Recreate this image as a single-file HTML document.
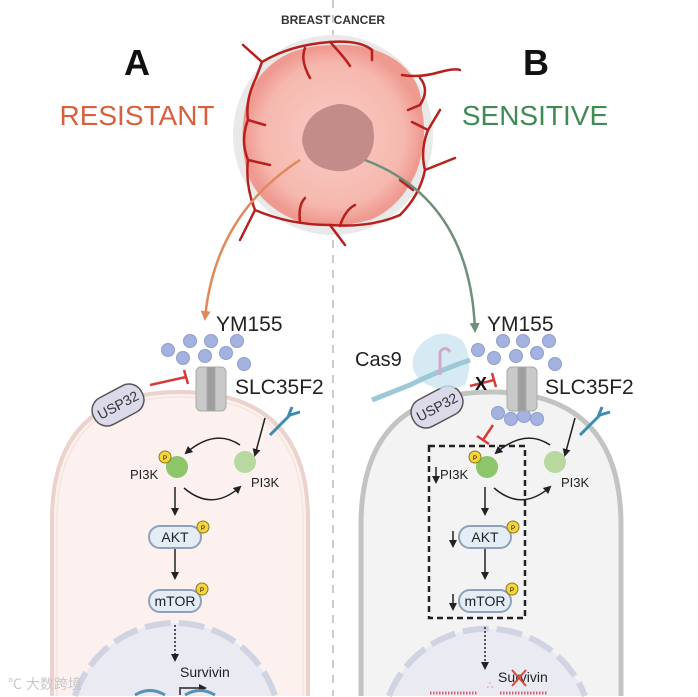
<!DOCTYPE html>
<html><head><meta charset="utf-8"><style>
html,body{margin:0;padding:0;background:#fff;width:698px;height:697px;overflow:hidden;}
svg{display:block;font-family:"Liberation Sans","Noto Sans CJK SC",sans-serif;}
</style></head><body>
<svg width="698" height="697" viewBox="0 0 698 697" xmlns="http://www.w3.org/2000/svg">
<defs>
<marker id="ah" markerWidth="8" markerHeight="8" refX="6" refY="4" orient="auto" markerUnits="userSpaceOnUse"><path d="M0,0 L8,4 L0,8 z" fill="#222"/></marker>
<marker id="ao" markerWidth="10" markerHeight="10" refX="7" refY="5" orient="auto" markerUnits="userSpaceOnUse"><path d="M0,0 L10,5 L0,10 z" fill="#e0895a"/></marker>
<marker id="ag" markerWidth="10" markerHeight="10" refX="7" refY="5" orient="auto" markerUnits="userSpaceOnUse"><path d="M0,0 L10,5 L0,10 z" fill="#6f8f7a"/></marker>
<radialGradient id="tum" cx="50%" cy="50%" r="50%"><stop offset="0" stop-color="#f7cdc6"/><stop offset="0.8" stop-color="#f6b8ae"/><stop offset="1" stop-color="#ef9a91"/></radialGradient>
</defs>
<line x1="333" y1="0" x2="333" y2="696" stroke="#bbb" stroke-width="1.5" stroke-dasharray="8,7"/>

<path d="M52,696 L52,520 Q52,392 180,392 Q308,392 308,520 L308,696" fill="#fcf1ef" stroke="#ecd2cd" stroke-width="4"/>
<path d="M57,696 L57,520 Q57,397 180,397 Q303,397 303,520 L303,696" fill="none" stroke="#f5e4e0" stroke-width="1.5"/>
<path d="M361,696 L361,525 Q361,392 491,392 Q621,392 621,525 L621,696" fill="#f3f3f3" stroke="#c2c4c2" stroke-width="5"/>

<path d="M75,696 A105,105 0 0 1 275,696 Z" fill="#e9eaf2"/>
<path d="M75,696 A105,105 0 0 1 275,696" fill="none" stroke="#cfd3e2" stroke-width="6" stroke-dasharray="26,8"/>
<path d="M389,696 A105,105 0 0 1 585,696 Z" fill="#e9eaf2"/>
<path d="M389,696 A105,105 0 0 1 585,696" fill="none" stroke="#cfd3e2" stroke-width="6" stroke-dasharray="26,8"/>

<circle cx="333" cy="135" r="100" fill="#e9e9e9"/>
<path d="M332,47 Q370,45 395,62 Q420,80 420,110 Q426,140 415,170 Q400,205 370,218 Q335,228 300,220 Q262,205 250,175 Q240,140 248,105 Q258,70 290,55 Q310,47 332,47z" fill="url(#tum)" stroke="#ef9a90" stroke-width="4"/>
<path d="M338,104 Q360,104 372,122 Q378,145 366,160 Q350,175 330,170 Q305,165 302,140 Q305,110 338,104z" fill="#c48c88"/>
<g stroke="#b8201e" stroke-width="2.5" fill="none" stroke-linecap="round">
<path d="M243,45 L262,62 L256,78"/><path d="M262,62 Q290,45 330,42 Q360,40 372,50"/><path d="M305,48 Q300,60 310,78"/>
<path d="M330,42 Q345,58 350,66"/><path d="M372,50 L372,60"/>
<path d="M402,75 Q420,78 440,72 Q455,68 460,70"/><path d="M420,78 Q430,90 420,105 L408,110"/>
<path d="M256,78 Q245,100 248,120 Q240,140 248,160 Q245,185 255,210 L240,240"/><path d="M248,120 L265,125"/><path d="M248,160 L270,165"/>
<path d="M255,210 Q290,225 330,225 Q370,228 400,215"/><path d="M300,222 Q298,205 305,198"/><path d="M340,226 Q345,210 355,205"/><path d="M330,225 L345,245"/>
<path d="M400,215 Q420,195 425,170 L455,158"/><path d="M425,170 Q420,150 428,130 L412,122"/><path d="M428,130 L440,110"/><path d="M413,190 L400,180"/>
</g>

<text x="333" y="24" font-size="12" font-weight="bold" text-anchor="middle" fill="#333">BREAST CANCER</text>
<text x="137" y="75" font-size="36" font-weight="bold" text-anchor="middle" fill="#111">A</text>
<text x="536" y="75" font-size="36" font-weight="bold" text-anchor="middle" fill="#111">B</text>
<text x="137" y="125" font-size="28" text-anchor="middle" fill="#d9603e">RESISTANT</text>
<text x="535" y="125" font-size="28" text-anchor="middle" fill="#3f8a55">SENSITIVE</text>

<path d="M300,160 Q215,215 205,318" stroke="#e0895a" stroke-width="2.5" fill="none" marker-end="url(#ao)"/>
<path d="M365,160 Q470,200 475,330" stroke="#6f8f7a" stroke-width="2.5" fill="none" marker-end="url(#ag)"/>

<text x="216" y="331" font-size="21" fill="#222">YM155</text>
<text x="487" y="331" font-size="21" fill="#222">YM155</text>
<text x="235" y="394" font-size="21" fill="#222">SLC35F2</text>
<text x="545" y="394" font-size="21" fill="#222">SLC35F2</text>
<text x="355" y="366" font-size="20" fill="#222">Cas9</text>

<g fill="#a3b2de" stroke="#8e9fcf" stroke-width="1">
<circle cx="168" cy="350" r="6.5"/><circle cx="190" cy="341" r="6.5"/><circle cx="211" cy="341" r="6.5"/><circle cx="237" cy="341" r="6.5"/>
<circle cx="183" cy="358" r="6.5"/><circle cx="205" cy="356" r="6.5"/><circle cx="226" cy="353" r="6.5"/><circle cx="244" cy="364" r="6.5"/>
<circle cx="478" cy="350" r="6.5"/><circle cx="503" cy="341" r="6.5"/><circle cx="523" cy="341" r="6.5"/><circle cx="549" cy="341" r="6.5"/>
<circle cx="494" cy="358" r="6.5"/><circle cx="516" cy="356" r="6.5"/><circle cx="537" cy="353" r="6.5"/><circle cx="555" cy="364" r="6.5"/>
<circle cx="498" cy="413" r="6.5"/><circle cx="511" cy="419" r="6.5"/><circle cx="524" cy="416" r="6.5"/><circle cx="537" cy="419" r="6.5"/>
</g>

<g fill="#c9c9c9" stroke="#aaa" stroke-width="1">
<rect x="196" y="367" width="30" height="44" rx="5"/><rect x="207" y="367" width="8" height="44" fill="#9e9e9e"/>
<rect x="507" y="367" width="30" height="44" rx="5"/><rect x="518" y="367" width="8" height="44" fill="#9e9e9e"/>
</g>

<g transform="translate(118,405) rotate(-28)"><rect x="-27" y="-15" width="54" height="30" rx="14" fill="#dcdaea" stroke="#555" stroke-width="1.5"/><text x="0" y="5" font-size="14" text-anchor="middle" fill="#333">USP32</text></g>
<g transform="translate(437,407) rotate(-28)"><rect x="-27" y="-15" width="54" height="30" rx="14" fill="#dcdaea" stroke="#555" stroke-width="1.5"/><text x="0" y="5" font-size="14" text-anchor="middle" fill="#333">USP32</text></g>

<path d="M150,385 L186,377 M184,370 L188,384" stroke="#d83a3a" stroke-width="2.5" fill="none"/>
<path d="M470,386 L494,380 M492,373 L496,387" stroke="#d83a3a" stroke-width="2.5" fill="none"/>
<text x="475" y="390" font-size="18" font-weight="bold" fill="#111">X</text>
<path d="M493,425 L483,440 M477,436 L489,444" stroke="#d83a3a" stroke-width="2.5" fill="none"/>

<path d="M420,345 Q440,325 462,340 Q475,360 465,385 Q440,395 420,380 Q405,365 420,345z" fill="#cbe5ef" opacity="0.8"/>
<path d="M372,400 L410,385 Q440,370 470,360" stroke="#9cc8d8" stroke-width="5" fill="none"/>
<path d="M440,375 L440,352 Q445,345 450,352" stroke="#d3a8c8" stroke-width="3" fill="none"/>

<path d="M270,435 L290,415 M288,417 L292,407 M290,415 L300,412" stroke="#3c8bb0" stroke-width="3" fill="none"/>
<path d="M580,435 L600,415 M598,417 L602,407 M600,415 L610,412" stroke="#3c8bb0" stroke-width="3" fill="none"/>

<g>
<circle cx="177" cy="467" r="11" fill="#8cc56a"/><circle cx="245" cy="462" r="11" fill="#b7d9a0"/>
<circle cx="165" cy="457" r="6" fill="#f3d43a" stroke="#8a7a20"/><text x="165" y="460" font-size="6" text-anchor="middle">P</text>
<text x="130" y="479" font-size="13" fill="#222">PI3K</text>
<text x="251" y="487" font-size="13" fill="#222">PI3K</text>
<path d="M240,445 Q215,428 186,453" stroke="#222" stroke-width="1.5" fill="none" marker-end="url(#ah)"/>
<path d="M265,418 L255,455" stroke="#222" stroke-width="1.5" fill="none" marker-end="url(#ah)"/>
<path d="M184,488 Q212,512 240,487" stroke="#222" stroke-width="1.5" fill="none" marker-end="url(#ah)"/>
<line x1="175" y1="487" x2="175" y2="514" stroke="#222" stroke-width="1.5" marker-end="url(#ah)"/>
<rect x="149" y="526" width="52" height="22" rx="11" fill="#e4edf5" stroke="#8fa0b8" stroke-width="2"/><text x="175" y="542" font-size="14" text-anchor="middle" fill="#222">AKT</text>
<circle cx="203" cy="527" r="6" fill="#f3d43a" stroke="#8a7a20"/><text x="203" y="530" font-size="6" text-anchor="middle">P</text>
<line x1="175" y1="549" x2="175" y2="578" stroke="#222" stroke-width="1.5" marker-end="url(#ah)"/>
<rect x="149" y="590" width="52" height="22" rx="11" fill="#e4edf5" stroke="#8fa0b8" stroke-width="2"/><text x="175" y="606" font-size="14" text-anchor="middle" fill="#222">mTOR</text>
<circle cx="202" cy="589" r="6" fill="#f3d43a" stroke="#8a7a20"/><text x="202" y="592" font-size="6" text-anchor="middle">P</text>
</g>
<line x1="175" y1="625" x2="175" y2="660" stroke="#222" stroke-width="1.5" stroke-dasharray="2,2" marker-end="url(#ah)"/>
<text x="180" y="677" font-size="14" fill="#222">Survivin</text>
<path d="M180,695 L180,688 L205,688" stroke="#555" stroke-width="2" fill="none" marker-end="url(#ah)"/>
<path d="M135,695 Q150,686 165,695 M185,695 Q200,686 215,695" stroke="#5a8fb8" stroke-width="3" fill="none"/>

<g transform="translate(310,0)">
<circle cx="177" cy="467" r="11" fill="#8cc56a"/><circle cx="245" cy="462" r="11" fill="#b7d9a0"/>
<circle cx="165" cy="457" r="6" fill="#f3d43a" stroke="#8a7a20"/><text x="165" y="460" font-size="6" text-anchor="middle">P</text>
<text x="130" y="479" font-size="13" fill="#222">PI3K</text>
<text x="251" y="487" font-size="13" fill="#222">PI3K</text>
<path d="M240,445 Q215,428 186,453" stroke="#222" stroke-width="1.5" fill="none" marker-end="url(#ah)"/>
<path d="M265,418 L255,455" stroke="#222" stroke-width="1.5" fill="none" marker-end="url(#ah)"/>
<path d="M184,488 Q212,512 240,487" stroke="#222" stroke-width="1.5" fill="none" marker-end="url(#ah)"/>
<line x1="175" y1="487" x2="175" y2="514" stroke="#222" stroke-width="1.5" marker-end="url(#ah)"/>
<rect x="149" y="526" width="52" height="22" rx="11" fill="#e4edf5" stroke="#8fa0b8" stroke-width="2"/><text x="175" y="542" font-size="14" text-anchor="middle" fill="#222">AKT</text>
<circle cx="203" cy="527" r="6" fill="#f3d43a" stroke="#8a7a20"/><text x="203" y="530" font-size="6" text-anchor="middle">P</text>
<line x1="175" y1="549" x2="175" y2="578" stroke="#222" stroke-width="1.5" marker-end="url(#ah)"/>
<rect x="149" y="590" width="52" height="22" rx="11" fill="#e4edf5" stroke="#8fa0b8" stroke-width="2"/><text x="175" y="606" font-size="14" text-anchor="middle" fill="#222">mTOR</text>
<circle cx="202" cy="589" r="6" fill="#f3d43a" stroke="#8a7a20"/><text x="202" y="592" font-size="6" text-anchor="middle">P</text>
</g>
<rect x="429" y="446" width="96" height="172" fill="none" stroke="#222" stroke-width="2.5" stroke-dasharray="6,4"/>
<g stroke="#222" stroke-width="1.5" marker-end="url(#ah)">
<line x1="436" y1="467" x2="436" y2="482"/><line x1="453" y1="531" x2="453" y2="546"/><line x1="453" y1="594" x2="453" y2="609"/>
</g>
<line x1="485" y1="627" x2="485" y2="668" stroke="#222" stroke-width="1.5" stroke-dasharray="2,2" marker-end="url(#ah)"/>
<text x="498" y="682" font-size="14" fill="#222">Survivin</text>
<path d="M512,670 L526,686 M526,670 L512,686" stroke="#d8493a" stroke-width="2"/>
<path d="M430,693 L478,693 M500,693 L548,693" stroke="#d86070" stroke-width="3" stroke-dasharray="1.5,1.5"/>
<text x="486" y="688" font-size="8" fill="#d86070">∴</text>

<text x="8" y="689" font-size="14" fill="#c8c8c8">℃ 大数跨境</text>
</svg>
</body></html>
